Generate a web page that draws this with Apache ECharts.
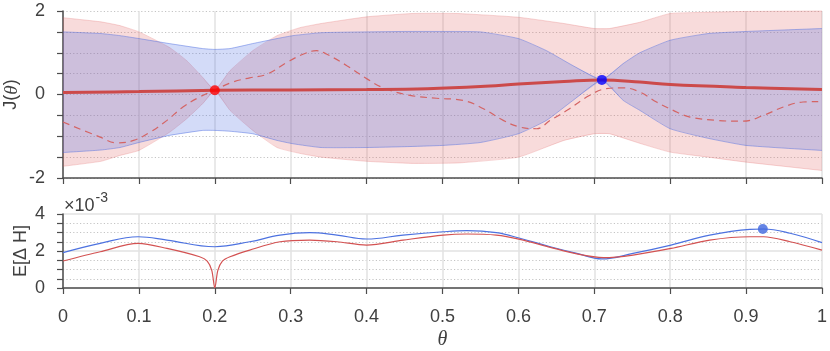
<!DOCTYPE html>
<html lang="en">
<head>
    <meta charset="UTF-8">
    <title>J(θ) and E[ΔH]</title>
    <script src="https://cdn.jsdelivr.net/npm/echarts@6/dist/echarts.min.js"></script>
    <style>
        body { margin: 0; padding: 0; background: #fff; }
        #chart { width: 830px; height: 351px; }
    </style>
</head>
<body>
<div id="chart"></div>
<script>
// top panel: envelope of red samples (pinned at theta = 0.2)
const thetaR = [0, 0.05, 0.075, 0.1, 0.14, 0.163, 0.184, 0.2, 0.22, 0.25, 0.282, 0.312, 0.34, 0.4, 0.46, 0.52, 0.6, 0.66, 0.7, 0.72, 0.76, 0.8, 0.85, 0.9, 1.0];
const redUpper = [1.84, 1.74, 1.65, 1.50, 1.13, 0.81, 0.41, 0.10, 0.57, 1.05, 1.41, 1.60, 1.70, 1.86, 1.94, 1.94, 1.85, 1.70, 1.58, 1.58, 1.73, 1.94, 1.97, 1.99, 2.0];
const redLower = [-1.72, -1.60, -1.46, -1.34, -0.91, -0.58, -0.22, 0.10, -0.38, -0.86, -1.27, -1.41, -1.50, -1.60, -1.65, -1.64, -1.50, -1.10, -0.94, -0.94, -1.17, -1.38, -1.50, -1.62, -1.82];

// envelope of blue samples (pinned at theta = 0.71)
const thetaB = [0, 0.05, 0.075, 0.1, 0.14, 0.184, 0.2, 0.22, 0.25, 0.282, 0.303, 0.34, 0.4, 0.45, 0.5, 0.55, 0.6, 0.637, 0.672, 0.71, 0.738, 0.76, 0.8, 0.85, 0.9, 1.0];
const blueUpper = [1.50, 1.46, 1.41, 1.34, 1.22, 1.10, 1.08, 1.10, 1.22, 1.34, 1.41, 1.48, 1.50, 1.51, 1.51, 1.50, 1.34, 1.05, 0.69, 0.35, 0.74, 1.00, 1.30, 1.46, 1.51, 1.58];
const blueLower = [-1.39, -1.33, -1.27, -1.15, -0.98, -0.86, -0.86, -0.88, -0.94, -1.10, -1.18, -1.27, -1.27, -1.25, -1.22, -1.15, -0.94, -0.62, -0.14, 0.35, -0.14, -0.38, -0.82, -1.05, -1.22, -1.34];

// mean estimate (thick line)
const thetaMean = [0, 0.1, 0.2, 0.3, 0.4, 0.48, 0.55, 0.6, 0.66, 0.71, 0.76, 0.8, 0.9, 1.0];
const meanJ = [0.05, 0.07, 0.10, 0.11, 0.12, 0.14, 0.19, 0.25, 0.31, 0.35, 0.30, 0.24, 0.17, 0.12];

// true function (dashed)
const thetaTrue = [0, 0.049, 0.071, 0.093, 0.115, 0.137, 0.158, 0.18, 0.2, 0.224, 0.246, 0.268, 0.295, 0.317, 0.334, 0.347, 0.374, 0.4, 0.422, 0.457, 0.492, 0.527, 0.554, 0.58, 0.602, 0.624, 0.642, 0.664, 0.694, 0.716, 0.738, 0.76, 0.782, 0.804, 0.826, 0.861, 0.896, 0.923, 0.949, 0.975, 0.995];
const trueJ = [-0.66, -1.02, -1.16, -1.10, -0.90, -0.62, -0.30, -0.06, 0.11, 0.30, 0.40, 0.48, 0.77, 0.97, 1.05, 0.97, 0.69, 0.38, 0.16, -0.02, -0.09, -0.14, -0.34, -0.62, -0.78, -0.82, -0.62, -0.38, -0.02, 0.14, 0.16, 0.06, -0.18, -0.38, -0.54, -0.62, -0.64, -0.50, -0.30, -0.18, -0.17];

// observations
const redObs = [0.2, 0.1];
const blueObs = [0.71, 0.35];

// bottom panel, values in units of 1e-3
const thetaEB = [0, 0.049, 0.099, 0.137, 0.2, 0.246, 0.286, 0.325, 0.361, 0.4, 0.448, 0.501, 0.532, 0.571, 0.602, 0.642, 0.677, 0.71, 0.751, 0.801, 0.852, 0.905, 0.923, 0.958, 1.0];
const eBlue = [1.91, 2.41, 2.77, 2.59, 2.23, 2.50, 2.86, 2.99, 2.86, 2.65, 2.86, 3.04, 3.10, 2.99, 2.69, 2.23, 1.87, 1.57, 1.87, 2.32, 2.86, 3.17, 3.19, 2.96, 2.45];
const thetaER = [0, 0.049, 0.099, 0.137, 0.18, 0.19, 0.196, 0.2, 0.204, 0.21, 0.22, 0.246, 0.286, 0.325, 0.361, 0.4, 0.448, 0.501, 0.532, 0.571, 0.602, 0.642, 0.677, 0.712, 0.751, 0.801, 0.852, 0.905, 0.923, 0.958, 1.0];
const eRed = [1.46, 1.96, 2.41, 2.14, 1.69, 1.45, 0.95, 0.0, 0.95, 1.45, 1.69, 2.05, 2.50, 2.59, 2.50, 2.32, 2.59, 2.86, 2.92, 2.86, 2.63, 2.20, 1.84, 1.64, 1.78, 2.14, 2.59, 2.77, 2.77, 2.50, 2.05];
const eBest = [0.922, 3.19];

const chart = echarts.init(document.getElementById('chart'));

const FONT = '"Liberation Sans", Arial, sans-serif';
const TXT = '#404040';
const AXIS = '#4d4d4d';

function pairs(xs, ys) {
    return xs.map((x, i) => [x, ys[i]]);
}

// shaded band between lo and hi, drawn as one polygon in axis coordinates
function band(xs, lo, hi, fill, edge) {
    return {
        type: 'custom', xAxisIndex: 0, yAxisIndex: 0,
        data: [[xs[0], lo[0]]],
        encode: { x: 0, y: 1 },
        silent: true,
        renderItem: function (params, api) {
            const top = xs.map((x, i) => api.coord([x, hi[i]]));
            const bot = xs.map((x, i) => api.coord([x, lo[i]]));
            const poly = top.concat(bot.slice().reverse());
            return {
                type: 'group',
                children: [
                    { type: 'polygon', shape: { points: poly }, style: { fill: fill, stroke: null } },
                    { type: 'polyline', shape: { points: top, smooth: 0.15 }, style: { fill: null, stroke: edge, lineWidth: 1 } },
                    { type: 'polyline', shape: { points: bot, smooth: 0.15 }, style: { fill: null, stroke: edge, lineWidth: 1 } }
                ]
            };
        }
    };
}

function xAxisCfg(grid, labels, name) {
    return {
        gridIndex: grid, type: 'value', min: 0, max: 1, interval: 0.1,
        name: name, nameLocation: 'middle', nameGap: 42,
        nameTextStyle: { fontFamily: '"Liberation Serif", serif', fontStyle: 'italic', fontSize: 20, color: TXT },
        axisLine: { onZero: false, lineStyle: { color: AXIS, width: 1.5 } },
        axisTick: { length: 6, lineStyle: { color: AXIS, width: 1.2 } },
        axisLabel: { show: labels, fontFamily: FONT, fontSize: 18, color: TXT, margin: 20 },
        splitLine: { show: true, lineStyle: { color: '#e2e2e2', width: 1.5 } }
    };
}

function yAxisCfg(grid, min, max, major, name, gap) {
    return {
        gridIndex: grid, type: 'value', min: min, max: max, interval: 2,
        name: name, nameLocation: 'middle', nameGap: gap, nameMoveOverlap: false,
        nameTextStyle: {
            fontFamily: FONT, fontSize: 18, color: TXT,
            rich: { i: { fontFamily: '"Liberation Serif", serif', fontStyle: 'italic', fontSize: 19, color: TXT } }
        },
        axisLine: { show: true, onZero: false, lineStyle: { color: AXIS, width: 1.5 } },
        axisTick: { show: true, length: 6, lineStyle: { color: AXIS, width: 1.2 } },
        minorTick: { show: true, splitNumber: 4, length: 6, lineStyle: { color: AXIS, width: 1.2 } },
        axisLabel: { fontFamily: FONT, fontSize: 18, color: TXT, margin: 18 },
        splitLine: major
            ? { show: true, lineStyle: { color: '#e2e2e2', width: 1.5 } }
            : { show: true, lineStyle: { color: '#c4c4c4', width: 1, type: [1.2, 2.2] } },
        minorSplitLine: { show: true, lineStyle: { color: '#c4c4c4', width: 1, type: [1.2, 2.2] } }
    };
}

const option = {
    animation: false,
    backgroundColor: '#fff',
    grid: [
        { left: 63, right: 8, top: 11, height: 167, outerBoundsMode: 'none' },
        { left: 63, right: 8, top: 214, height: 74, outerBoundsMode: 'none' }
    ],
    xAxis: [
        xAxisCfg(0, false, ''),
        xAxisCfg(1, true, 'θ')
    ],
    yAxis: [
        yAxisCfg(0, -2, 2, false, 'J({i|θ})', 42),
        yAxisCfg(1, 0, 4, true, 'E[Δ H]', 33)
    ],
    graphic: [{
        type: 'text', left: 64, top: 191,
        style: {
            text: '{a|×10}{b|-3}',
            rich: {
                a: { fontFamily: FONT, fontSize: 18, fill: TXT, padding: [8, 0, 0, 0] },
                b: { fontFamily: FONT, fontSize: 14, fill: TXT, padding: [0, 0, 8, 1] }
            }
        }
    }],
    series: [
        band(thetaR, redLower, redUpper, 'rgba(222,90,90,0.22)', 'rgba(222,90,90,0.25)'),
        band(thetaB, blueLower, blueUpper, 'rgba(70,105,225,0.24)', 'rgba(70,105,225,0.45)'),
        {
            type: 'line', xAxisIndex: 0, yAxisIndex: 0, data: pairs(thetaTrue, trueJ),
            symbol: 'none', smooth: 0.4,
            lineStyle: { color: '#d46464', width: 1.2, type: [7, 5] }, z: 4
        },
        {
            type: 'line', xAxisIndex: 0, yAxisIndex: 0, data: pairs(thetaMean, meanJ),
            symbol: 'none', smooth: 0.4,
            lineStyle: { color: '#cc4a4a', width: 3 }, z: 5
        },
        {
            type: 'scatter', xAxisIndex: 0, yAxisIndex: 0, symbolSize: 10, z: 6,
            data: [redObs], itemStyle: { color: '#ff0000' }
        },
        {
            type: 'scatter', xAxisIndex: 0, yAxisIndex: 0, symbolSize: 10, z: 6,
            data: [blueObs], itemStyle: { color: '#0000ff' }
        },
        {
            type: 'line', xAxisIndex: 1, yAxisIndex: 1, data: pairs(thetaEB, eBlue),
            symbol: 'none', smooth: 0.4,
            lineStyle: { color: '#4d72e0', width: 1.2 }
        },
        {
            type: 'line', xAxisIndex: 1, yAxisIndex: 1, data: pairs(thetaER, eRed),
            symbol: 'none', smooth: 0.3,
            lineStyle: { color: '#d35252', width: 1.2 }
        },
        {
            type: 'scatter', xAxisIndex: 1, yAxisIndex: 1, symbolSize: 10, z: 6,
            data: [eBest], itemStyle: { color: '#3f66de' }
        }
    ]
};

chart.setOption(option);
</script>
</body>
</html>
